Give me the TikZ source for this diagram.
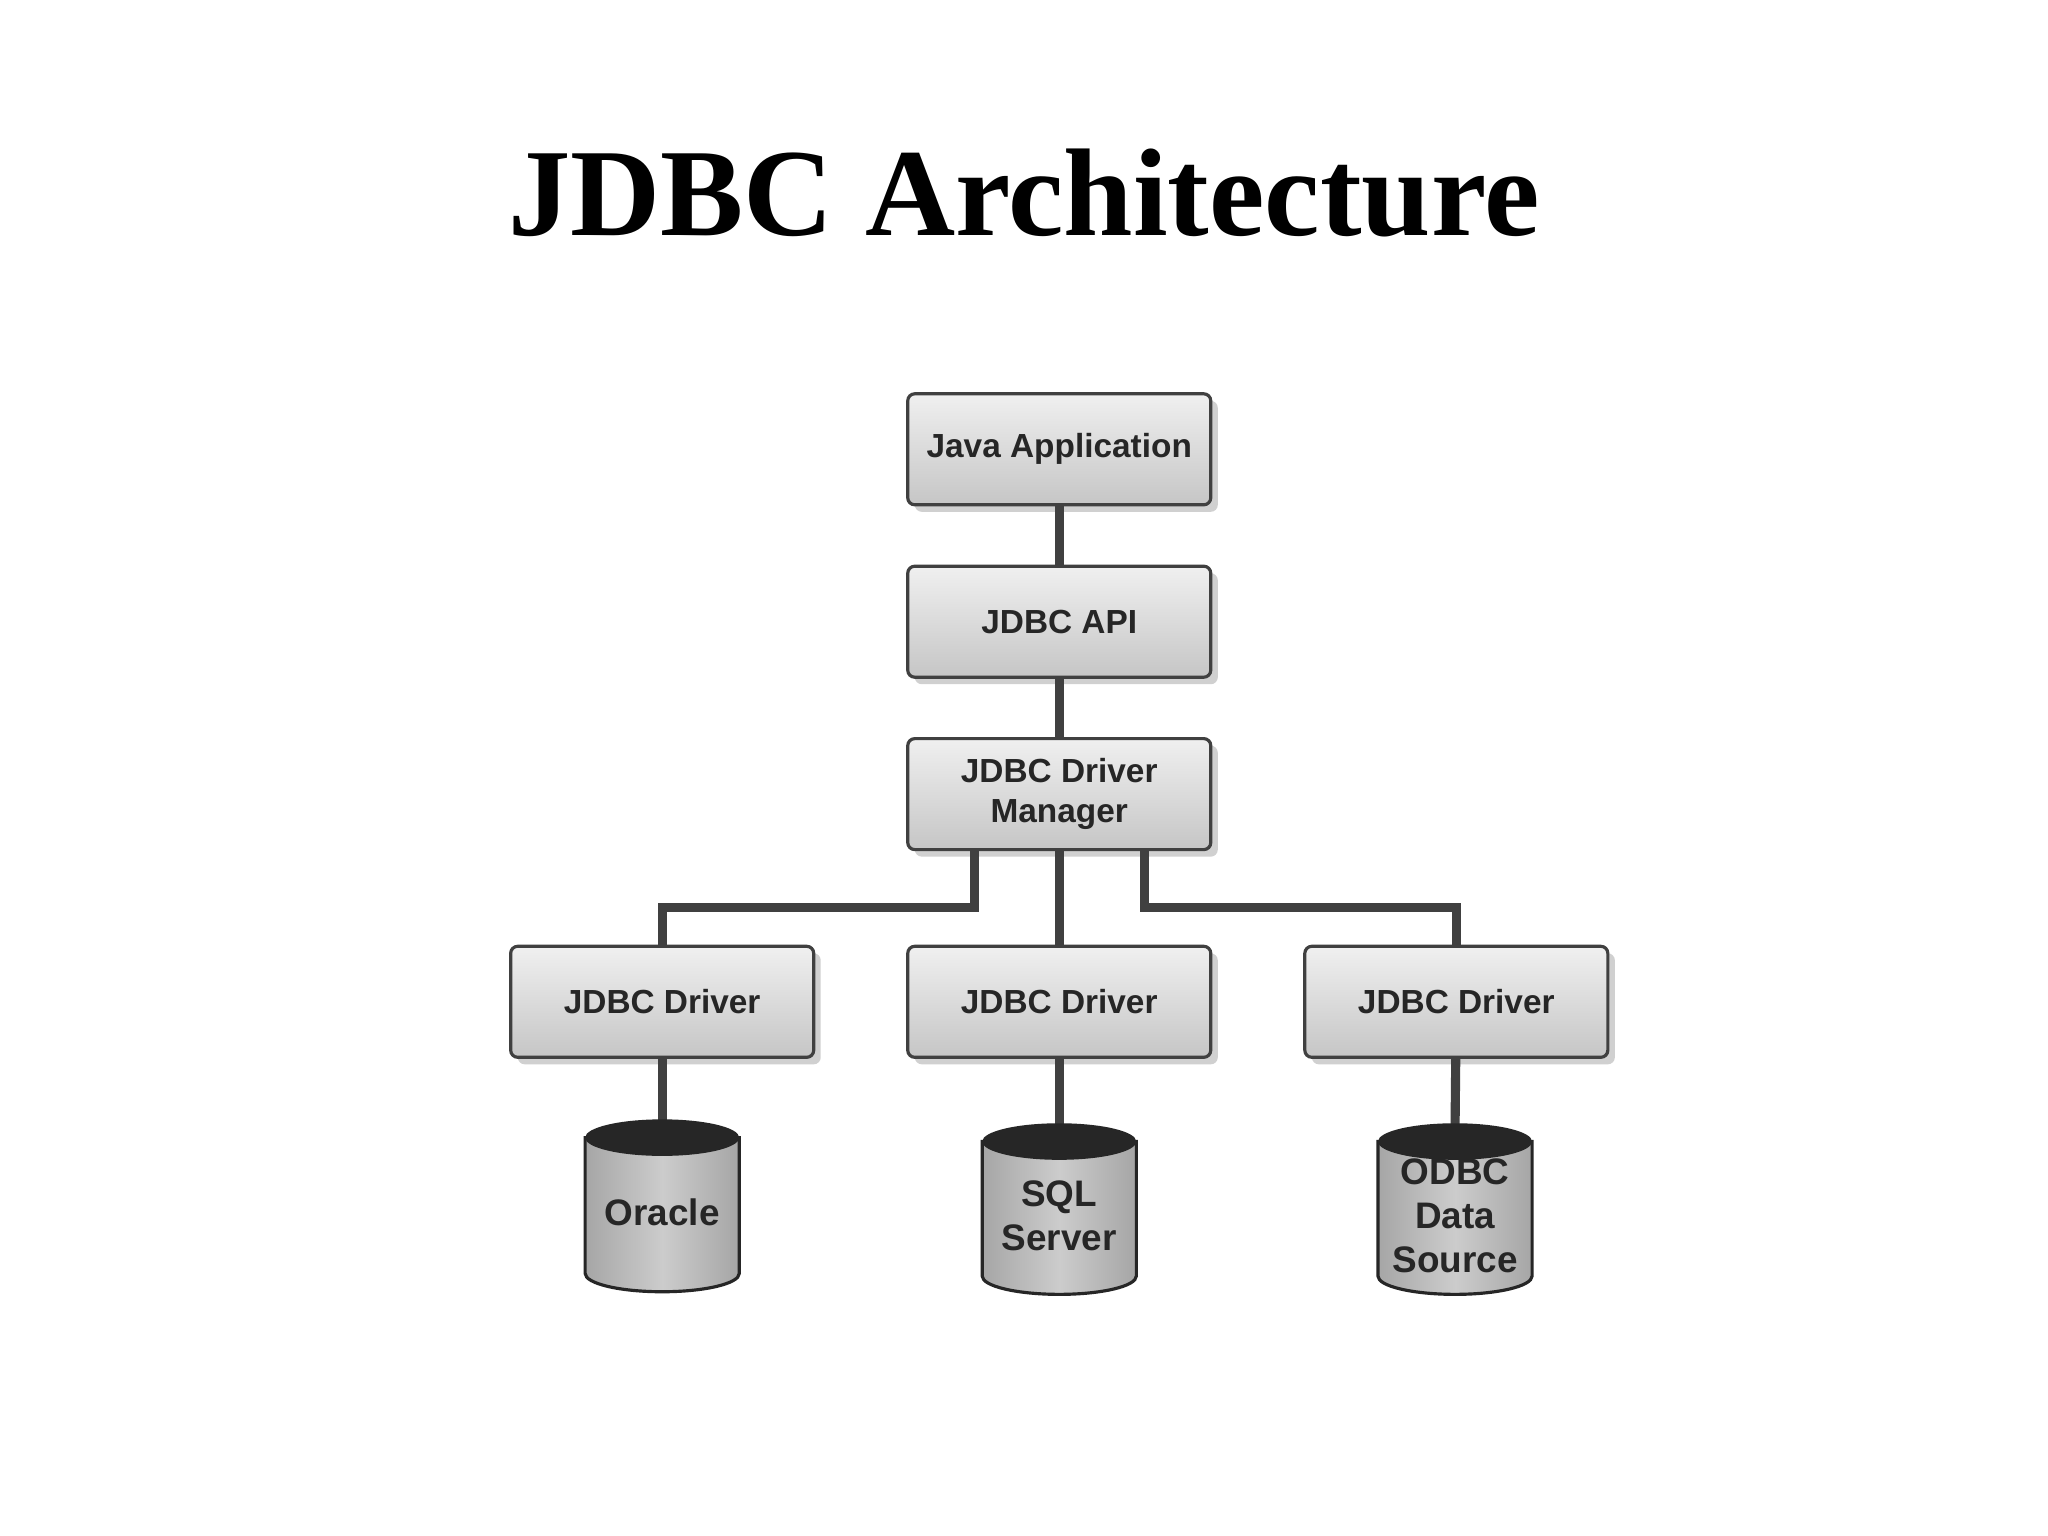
\documentclass[tikz,border=0pt]{standalone}
\usepackage{fontspec}
\setmainfont{Liberation Serif}
\newfontfamily\boxfont{Liberation Sans}
\usetikzlibrary{shadows}
\begin{document}
\begin{tikzpicture}[x=0.01306cm,y=-0.01306cm,
  box/.style={draw=gray!50!black,line width=0.9pt,rounded corners=2pt,
    top color=gray!12,bottom color=gray!45,
    drop shadow={shadow xshift=2pt,shadow yshift=-2pt,fill=gray!60,opacity=0.6},
    minimum width=232*0.01306cm,minimum height=85*0.01306cm,inner xsep=1pt,
    font=\boxfont\bfseries\fontsize{9.5}{11.5}\selectfont,align=center,text=black!85},
  conn/.style={line width=2.6pt,draw=black!75},
  dbtext/.style={font=\boxfont\bfseries\fontsize{10.5}{12.5}\selectfont,align=center,text=black!85}]
\useasboundingbox[fill=white] (0,0) rectangle (1568,1176);
\node[font=\bfseries\fontsize{35.5}{42}\selectfont] (title) at (784,148) {JDBC Architecture};
\draw[conn] (811,344) -- (811,476);
\node[box] (app) at (811,344) {Java Application};
\node[box] (api) at (811,476) {JDBC API};
\node[box] (mgr) at (811,608) {JDBC Driver\\Manager};
\node[box] (d1) at (507,767) {JDBC Driver};
\node[box] (d2) at (811,767) {JDBC Driver};
\node[box] (d3) at (1115,767) {JDBC Driver};
% connectors
\draw[conn] (app) -- (api);
\draw[conn] (api) -- (mgr);
\draw[conn] (mgr) -- (d2);
\draw[conn] (mgr.south -| 746,0) -- (746,695) -| (d1.north);
\draw[conn] (mgr.south -| 876,0) -- (876,695) -| (d3.north);
% cylinders
\foreach \n/\cx/\ty/\by in {c1/507/871/975, c2/811/874/977, c3/1114/874/977}{
  \coordinate (\n) at (\cx,\ty-8);
}
\draw[conn] (d1) -- (c1);
\draw[conn] (d2) -- (c2);
\draw[conn] (d3) -- (c3);
\foreach \n/\cx/\ty/\by in {c1/507/871/975, c2/811/874/977, c3/1114/874/977}{
  \shade[left color=gray!70,right color=gray!70,middle color=gray!40,draw=gray!30!black,line width=0.9pt]
    (\cx-59,\ty) -- (\cx-59,\by) arc[start angle=180,end angle=0,x radius=59,y radius=14] -- (\cx+59,\ty) -- cycle;
  \fill[gray!30!black] (\cx,\ty) ellipse[x radius=59,y radius=14];
}
\node[dbtext] (oracle) at (507,928) {Oracle};
\node[dbtext] (sql) at (811,931) {SQL\\Server};
\node[dbtext] (odbc) at (1114,931) {ODBC\\Data\\Source};
\end{tikzpicture}
\end{document}
